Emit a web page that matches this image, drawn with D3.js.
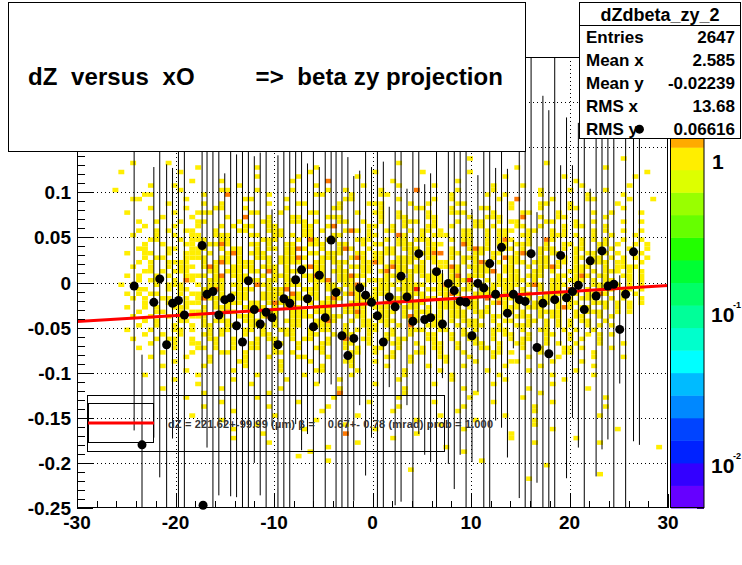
<!DOCTYPE html>
<html><head><meta charset="utf-8">
<script src="https://cdn.jsdelivr.net/npm/d3@7"></script>
<style>body{margin:0;background:#fff}svg{display:block}text{font-family:"Liberation Sans",Arial,sans-serif;font-weight:bold}</style>
</head><body><svg id="c" width="742" height="565"></svg>
<script>
// ---- data ----
const xTicks = [-30,-20,-10,0,10,20,30];
const yTicks = [-0.25,-0.2,-0.15,-0.1,-0.05,0,0.05,0.1];
const yTickLabels = ["-0.25","-0.2","-0.15","-0.1","-0.05","0","0.05","0.1"];
const zTicks = [1,0.1,0.01];
const zTickExp = ["","-1","-2"];
const statsTitle = "dZdbeta_zy_2";
const statsNames = ["Entries","Mean x","Mean y","RMS x","RMS y"];
const statsValues = ["2647","2.585","-0.02239","13.68","0.06616"];
const titleText = "dZ  versus  xO         =>  beta zy projection";
const fitText = "dZ = 221.62+-99.99 (\u00b5m) \u03b2 =    0.67+- 0.78 (mrad) prob = 1.000";
const fitLine = [[-30,-0.0433],[30,-0.0033]];
const paletteColors = ["#6600ff","#3300ff","#0022ff","#0044ff","#0088ff","#00bbff","#00ffff","#00ffcc","#00ff99","#00ff66","#00ff33","#22ff00","#66ff00","#99ff00","#ddff00","#ffee00","#ffaa00","#ff7700","#ff4400","#ff0000"];
const cellColors = {"1":"#ffee00","2":"#ff7700","3":"#ff2200"};
// 2D histogram rows: y-bins of height 0.005 starting at y=0.14 going down; 100 x-bins from -30 to 30
const histRows = [
"..................................................................1.........................1.......",
".........1.....1......................................1........................1...................",
"....................1.........1.........1.................................1..............1.........",
".......1.........1.....................1..........1.......1.......1.............................1..",
"..............................1......1.........1........................1.........1...........1....",
"...................1....1...........1.....2..........1..........1...................1..............",
"............1...1..........1............1.......1.....1.....1.........1....1.........1.......1.....",
"......1..........1......11....1.....1.....1..1.....1.....2......1.....1.......1....1.....1.........",
"...........11........1...2......1.......11....1....11..........1.....1..1.....1.......1.....1......",
".........11.......1.........11.....1.........11.......1.....1..1.......1..2.....1.....11.....1...1.",
"...............1.....1..1.......1....11.....1....111....1..1....11.......1....11...1.......1.......",
"............1.....1....11...1......1.......11......1.....11....1....11...1....1....11.......1......",
"........1.......1...111......11...1....11......1..11..1....1...111....1....11....1.....1..1....1...",
"..............1....1.....1..2...1...11....111......1..11...11.....1..111...2..1..11......1.........",
"..........1..1...1..11.....1...11...111.1...11..1..1...111..1...1..11..1.11....11...1..1....1..1...",
"...........1....1...1...1.1.11..11....11..12.....11..1.1...11..1...11.1...11..1...1.11...1.........",
"..........1..1.1..11...1...11...111...11.1...121.1..11..1.11.1...11..1.111..11..1.1....1.1..1..1...",
".........1...1..1..11..111...11..11.1.11...11....11...21..1.111..11..1.11..11...111.1..1..1...1....",
"............11...1.111..11.....111...1.21.11...111..1.11.111...1.11..1.121..1..21....1.1.1..1..1...",
"...........1..1...11..1121...11.1..11..111..11..1.11..111..111...21..1.11.111..1..11.1..11.1..1.1..",
"..........11...11..111..1.11..1.11.1121..1..121..1..11.111.11..1..1211..11.1..111.1.11..1.1..1..1..",
"........1..11..1..111.1..121.111...11..11.111..11.1111..1.1122.11..11.11..121.1.11..1.11.1.1...1...",
"...........1.11...1111..11.1..111.11121..111..121.11..1111.11..1.111..1.211...11..1.11.11.1.1.1.1..",
"..........1.1..1111..1.121.111..1.1111..11.111..1121.1111.1.111..1.121.1.111.111.11.1..111.11..1...",
".........1..1..1.111.121..1111.111.1..1211..1.1111..1211.11..1121.1111..11..1.1121..111..1.1111....",
"...........11.1.111...11.111.11.21.111..11.111..11.12.11111.1..11..1112.111..11.1..111.1.111.1.1...",
"........1.1..1.1..1111.12.111..1.111..1121..11211...111.1.1111.12.111..1.11.111..11.121.11..11.1...",
"..........1.11..1.21..111..1111.11.11..1112.111..1111.111..111.1113..1.11111.1..11.111.1.11..1.1...",
".......1.1...1.111..1.111.11..211..111..1.11.1121..111.1111..1211.111.11111.121.111.1..111.1.1.1...",
"..........11...1.11..1121..111..1112..111.111.11..111.1113.1111..11.111.11.1..1.11.2..1.111.11.1...",
"........1.1.11...1.111..1.111..1111.21.11..1.121..111..1111..1121..1111.11.11..1111.1.1121..1.1....",
".........1.1..11..1.12111..11..111.1111.1.121..1111..1111.111.1..111.2.111..1.111.11.111..1.1..1...",
"...........1...11.111..1.111.11.12111..1.111..1111..121.111..1111.11..121.1..111.1.11..111.1.1.1...",
"........1..1.1..111..1.111..1111.1.121..111..1111.111..111.1.1111.11.1..111.111..121.11..1.1.1.....",
"..........1..11..1.111..121..1.111..111.111..1121..111.1.111.1.111.111..11.1..1111..1.111..1.1.....",
".........1..1..1.1.111..1..111.121..1111..111..11.111..121.111.111..1.11..111.1.11..11..1.1........",
"...........1.1...11..1.111..111..1.111..1121..1.11.111..11..11.1.111..1.11..11.1.1.1.11..1.........",
"..........1..1..1..1.11..11..111.1..11..111..1..111.1.1.2..111..1.111..1..111..1.1.1..1.1.1........",
"........1...1...11.1..1.11..11.1..111..1.11..1.1.11..1..111..11..1.1..111..1..11..1.1..1...........",
"...........1..1..1...11.1...1..11..11..11..1.11..1..11..1..11..1.11...1.11..1..11..1..1.1.1........",
".........1...1.11..1..11..1...1.11..1.11..1..2..11..1.11...11..1..11..1..1.11..1...1.1..1..........",
"............1...1..11..1..1..11..11..1...11..11..1...11..1..11..1..11..1..11...1.1..1...1...1......",
"..........1.....1...11.1..1..11..1...1..11...1.1..11..1...1.11..1...11.1...1..1...11.1....1........",
"..............1....1....11..1....11.1....1....11..1..1...11..1...1....11.1....1...11...1...........",
"............1.....1...1.....1...1....11...1...1.....11..1....11...1...1.....1....1.....1....1......",
"................1.....1....11.....1....1.....11...1.....1.....1....1.....11.....1....1.............",
"..............1......1......1.....1......1....1.....1......1.....1......1.....1........1...........",
"..................1.......1.......1.....11.....1.......1.....1.......1......1.......1..............",
"...........1........1.........1.......1.......1........1.......1.......1........1......1...........",
"................1.........1........1........1.........1........1........1.........1...............",
"....................1........1..........1.........1.........1.........1.........1..................",
"..............1.........1.........1.........1..........1.........1..........1.........1...........",
".....................1..........1...........2..........1...........1..........1....................",
"..................1...........1............1..........1...........1........1.............1.........",
"........................1............1...........1..........1.........1.........1..................",
".....................1..........1.........1...........1..........1...........1...........1.........",
"..........................1..............1...........1..........1............1.....................",
"...................1.............1.............1.............1..........1...............1.........",
"........................1...............1................1.........1.........1.....................",
"..............................1..............1...............1...............1.....................",
"..........................1...........1...........1..............1..............1..........1.......",
"...............................1.............2...........1...............1.........................",
"..........................1..........................1...................1..........1..............",
"................................1..............1.............................1..........1..........",
"..........................................1...................1...................................1",
".......................................1.........................1.................................",
".....................................1............................................................",
"..........................................1.........................1..............................",
"...............................................................................1...................",
"........................................................1..........................................",
"........................................................................................1..........",
"............................................................................1......................"
];
// profile points: x, mean y, error
const profX = [-24.2,-23.4,-22.2,-21.6,-20.9,-20.3,-19.7,-19.1,-17.3,-17.2,-16.8,-16.2,-15.6,-15.0,-14.4,-13.8,-13.2,-12.6,-12.0,-11.4,-10.8,-10.2,-9.6,-9.0,-8.4,-7.8,-7.2,-6.6,-6.0,-5.4,-4.8,-4.2,-3.7,-3.1,-2.5,-1.9,-1.3,-0.7,-0.1,0.5,1.1,1.7,2.3,2.9,3.5,4.1,4.7,5.3,5.9,6.5,7.1,7.7,8.3,8.9,9.5,10.1,10.7,11.3,11.9,12.5,13.1,13.7,14.3,14.9,15.5,16.1,16.7,17.3,17.9,18.5,19.1,19.7,20.3,20.9,21.5,22.1,22.7,23.3,23.9,24.5,25.1,25.7,26.5,27.1];
const profY = [-0.004,-0.18,-0.022,0.004,-0.069,-0.023,-0.020,-0.036,0.041,-0.247,-0.013,-0.010,-0.036,-0.019,-0.017,-0.048,-0.066,0.002,-0.030,-0.046,-0.033,-0.039,-0.069,-0.018,-0.023,0.003,0.014,-0.018,-0.049,0.008,-0.039,0.047,-0.011,-0.059,-0.081,-0.062,-0.006,-0.014,-0.022,-0.037,-0.066,-0.016,-0.027,0.007,-0.016,-0.043,0.032,-0.041,-0.039,0.012,-0.046,-0.001,-0.009,-0.021,-0.022,-0.059,-0.001,-0.006,0.021,-0.013,0.039,-0.034,-0.013,-0.019,-0.021,0.032,-0.072,-0.023,-0.079,-0.019,0.030,-0.017,-0.010,-0.003,-0.030,0.024,-0.015,0.035,-0.004,-0.002,-0.052,-0.013,0.034,0.17];
const profE = [0.16,0.10,0.15,0.22,0.2,0.15,0.3,0.25,0.2,0.0,0.17,0.28,0.2,0.14,0.22,0.19,0.25,0.3,0.17,0.19,0.3,0.12,0.21,0.25,0.3,0.16,0.2,0.15,0.3,0.12,0.22,0.16,0.28,0.25,0.22,0.18,0.13,0.2,0.15,0.3,0.2,0.1,0.22,0.25,0.12,0.3,0.2,0.15,0.16,0.28,0.06,0.2,0.22,0.17,0.3,0.14,0.12,0.25,0.3,0.14,0.2,0.16,0.06,0.22,0.3,0.32,0.15,0.23,0.27,0.3,0.1,0.2,0.14,0.18,0.3,0.08,0.2,0.22,0.17,0.25,0.06,0.3,0.21,0.35];

// ---- drawing ----
const svg = d3.select("#c");
const L=77,R=668,T=57,B=508;
const x = d3.scaleLinear().domain([-30,30]).range([L,R]);
const y = d3.scaleLinear().domain([-0.25,0.25]).range([B,T]);
svg.append("clipPath").attr("id","cl").append("rect").attr("x",L).attr("y",T).attr("width",R-L).attr("height",B-T);
const plot = svg.append("g").attr("clip-path","url(#cl)");
const cells=[];
histRows.forEach((row,ri)=>{ for(let ci=0;ci<Math.min(100,row.length);ci++){const ch=row[ci]; if(ch!=="."&&ch!==" ") cells.push({ci,ri,v:ch});}});
plot.selectAll("rect.cell").data(cells).enter().append("rect")
 .attr("x",d=>x(-30+0.6*d.ci)).attr("width",x(0.6)-x(0))
 .attr("y",d=>y(0.14-0.005*d.ri)).attr("height",y(0)-y(0.005))
 .attr("fill",d=>cellColors[d.v]);
const gg = plot.append("g").attr("stroke","#000").attr("stroke-width",1).attr("stroke-dasharray","1,3");
xTicks.slice(1,-1).forEach(t=>gg.append("line").attr("x1",Math.round(x(t))+0.5).attr("x2",Math.round(x(t))+0.5).attr("y1",T).attr("y2",B));
yTicks.concat([0.15,0.2]).slice(1).forEach(t=>gg.append("line").attr("y1",Math.round(y(t))+0.5).attr("y2",Math.round(y(t))+0.5).attr("x1",L).attr("x2",R));
profX.forEach((px,i)=>{ plot.append("line").attr("x1",x(px)).attr("x2",x(px)).attr("y1",y(profY[i]-profE[i])).attr("y2",y(profY[i]+profE[i])).attr("stroke","#000").attr("stroke-width",1);});
plot.append("line").attr("x1",x(fitLine[0][0])).attr("y1",y(fitLine[0][1])).attr("x2",x(fitLine[1][0])).attr("y2",y(fitLine[1][1])).attr("stroke","#ff0000").attr("stroke-width",3);
const pts = svg.append("g");
pts.selectAll("circle.p").data(profX).enter().append("circle").attr("cx",d=>x(d)).attr("cy",(d,i)=>y(profY[i])).attr("r",4.5).attr("fill","#000");
svg.append("rect").attr("x",L+0.5).attr("y",T+0.5).attr("width",R-L-1).attr("height",B-T-1).attr("fill","none").attr("stroke","#000");
const tk = svg.append("g").attr("stroke","#000");
for(let v=-30;v<=30;v+=2){const X=Math.round(x(v))+0.5; const len=(v%10===0)?14:7; tk.append("line").attr("x1",X).attr("x2",X).attr("y1",B).attr("y2",B-len);}
for(let k=-25;k<=25;k++){const v=k/100; const Y=Math.round(y(v))+0.5; const len=(k%5===0)?16:8; tk.append("line").attr("x1",L).attr("x2",L+len).attr("y1",Y).attr("y2",Y);}
svg.selectAll("text.xt").data(xTicks).enter().append("text").attr("x",d=>x(d)).attr("y",529).attr("text-anchor","middle").attr("font-size",19).text(d=>d);
svg.selectAll("text.yt").data(yTicks).enter().append("text").attr("x",71).attr("y",d=>y(d)+7).attr("text-anchor","end").attr("font-size",19).text((d,i)=>yTickLabels[i]);
const bw=(B-T)/paletteColors.length;
svg.selectAll("rect.pal").data(paletteColors).enter().append("rect").attr("x",671).attr("width",33).attr("y",(d,i)=>B-(i+1)*bw).attr("height",bw+0.5).attr("fill",d=>d);
svg.append("rect").attr("x",670.5).attr("y",T+0.5).attr("width",33.5).attr("height",B-T-1).attr("fill","none").attr("stroke","#000");
const z = d3.scaleLog().domain([0.005,4.9]).range([B,T]);
[0.001,0.01,0.1,1].forEach(dec=>{for(let m=1;m<10;m++){const v=dec*m; if(v<0.005||v>4.9)continue; const Y=Math.round(z(v))+0.5; tk.append("line").attr("x1",704).attr("x2",m===1?689:697).attr("y1",Y).attr("y2",Y);}});
zTicks.forEach((v,i)=>{
  if(!zTickExp[i]){ svg.append("text").attr("x",712).attr("y",z(v)+8).attr("font-size",21).text("1"); return; }
  svg.append("text").attr("x",711).attr("y",z(v)+10).attr("font-size",21).text("10");
  svg.append("text").attr("x",733).attr("y",z(v)-4).attr("font-size",9).text(zTickExp[i]);
});
svg.append("rect").attr("x",87.5).attr("y",395.5).attr("width",357).attr("height",56).attr("fill","none").attr("stroke","#000");
svg.append("rect").attr("x",88.5).attr("y",403.5).attr("width",65).attr("height",39).attr("fill","none").attr("stroke","#000");
svg.append("line").attr("x1",88).attr("x2",154).attr("y1",423).attr("y2",423).attr("stroke","#ff0000").attr("stroke-width",3);
svg.append("text").attr("x",168).attr("y",428).attr("font-size",11).attr("fill","#333").attr("textLength",325).attr("xml:space","preserve").style("white-space","pre").text(fitText);
svg.append("rect").attr("x",8.5).attr("y",2.5).attr("width",517).attr("height",149).attr("fill","#fff").attr("stroke","#000");
svg.append("text").attr("x",28).attr("y",85).attr("font-size",24).attr("textLength",475).attr("xml:space","preserve").style("white-space","pre").text(titleText);
svg.append("rect").attr("x",579.5).attr("y",2.5).attr("width",161).attr("height",136).attr("fill","#fff").attr("stroke","#000");
svg.append("line").attr("x1",579).attr("x2",741).attr("y1",25.5).attr("y2",25.5).attr("stroke","#000");
svg.append("text").attr("x",660).attr("y",21).attr("text-anchor","middle").attr("font-size",18).text(statsTitle);
statsNames.forEach((n,i)=>{const yy=43+i*23; svg.append("text").attr("x",586).attr("y",yy).attr("font-size",17).text(n); svg.append("text").attr("x",735).attr("y",yy).attr("text-anchor","end").attr("font-size",17).text(statsValues[i]);});
svg.append("circle").attr("cx",x(profX[profX.length-1])).attr("cy",y(profY[profY.length-1])).attr("r",4.5).attr("fill","#000");
</script></body></html>
